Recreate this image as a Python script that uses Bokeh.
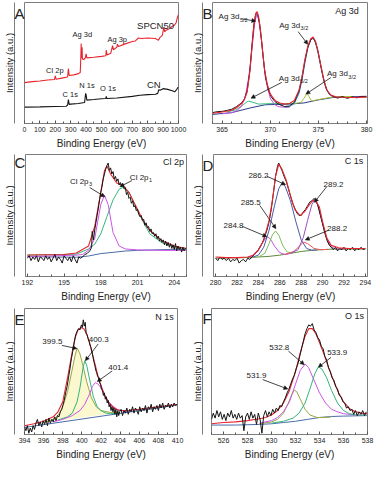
from bokeh.plotting import figure
from bokeh.layouts import column, row
from bokeh.models import Range1d, FixedTicker, Label, Arrow, NormalHead, ColumnDataSource
from bokeh.core.properties import value
from bokeh.embed import file_html
from bokeh.resources import INLINE

FONT = "Liberation Sans"

# ---------------- Panel A: survey ----------------
a_ticks = [0, 100, 200, 300, 400, 500, 600, 700, 800, 900, 1000]
a_minor = [50, 150, 250, 350, 450, 550, 650, 750, 850, 950]
a_spcn_x = [0, 50, 100, 150, 195, 200, 205, 250, 280, 285, 290, 320, 350, 362, 366, 368, 370, 373, 374, 376, 385, 395, 400, 405, 450, 500, 528, 531, 536, 560, 572, 578, 600, 603, 610, 650, 700, 720, 740, 760, 800, 850, 870, 880, 895, 900, 905, 910, 920, 940, 960, 975, 985, 992, 995, 1000]
a_spcn_y = [33.8, 34.6, 35.1, 35.9, 36.4, 39.4, 36.6, 37.7, 38.4, 45.3, 39.7, 40.2, 41.2, 42.2, 55.5, 66.2, 54.2, 58.0, 63.1, 53.4, 52.9, 54.2, 57.5, 54.2, 54.7, 55.5, 56.0, 60.6, 56.7, 58.0, 64.4, 61.0, 63.1, 65.6, 63.6, 65.6, 67.7, 68.2, 70.7, 70.2, 70.7, 70.2, 68.7, 71.2, 72.8, 76.3, 79.6, 75.8, 77.1, 78.4, 80.4, 81.4, 83.5, 87.3, 88.5, 89.8]
a_cn_x = [0, 100, 200, 270, 280, 285, 290, 300, 350, 390, 397, 400, 405, 450, 500, 528, 531, 535, 600, 700, 750, 800, 850, 865, 872, 880, 900, 930, 960, 975, 985, 995, 1000]
a_cn_y = [13.5, 13.7, 14.0, 14.2, 15.3, 19.8, 15.8, 16.0, 16.5, 17.3, 24.9, 23.7, 19.3, 19.8, 20.4, 20.6, 22.4, 20.6, 21.1, 22.4, 23.4, 23.9, 24.2, 24.9, 28.0, 27.5, 28.8, 28.2, 27.0, 26.2, 27.5, 29.5, 30.0]
a_lab_text = ["Cl 2p", "Ag 3d", "Ag 3p", "SPCN50", "C 1s", "N 1s", "O 1s", "CN"]
a_lab_x = [197, 375, 602, 851, 297, 406, 542, 840]
a_lab_y = [43.8, 73.3, 69.5, 81.4, 23.7, 31.0, 29.3, 32.0]
a_lab_size = ["7.5px", "7.5px", "7.5px", "9.5px", "7.5px", "7.5px", "7.5px", "9.5px"]

# ---------------- Panel B: Ag 3d ----------------
b_ticks = [365, 370, 375, 380]
b_minor = [364, 366, 367, 368, 369, 371, 372, 373, 374, 376, 377, 378, 379]
b_data_x = [364, 364.5, 365, 365.5, 366, 366.5, 367, 367.3, 367.6, 367.9, 368.1, 368.3, 368.5, 368.7, 368.9, 369.1, 369.3, 369.5, 369.8, 370.1, 370.5, 371, 371.5, 372, 372.5, 373, 373.3, 373.6, 373.9, 374.2, 374.4, 374.6, 374.9, 375.2, 375.5, 375.8, 376.1, 376.5, 377, 377.5, 378, 378.5, 379, 379.5, 380]
b_data_y = [9.0, 9.8, 10.0, 10.8, 11.8, 14.0, 17.0, 20.0, 27.0, 45.0, 65.0, 82.0, 91.0, 90.0, 82.0, 68.0, 52.0, 38.0, 28.0, 22.0, 18.0, 15.5, 14.0, 14.5, 17.5, 27.0, 38.0, 52.0, 63.0, 69.0, 70.5, 69.0, 62.0, 50.0, 38.0, 29.0, 24.5, 22.5, 21.0, 22.3, 20.8, 22.0, 21.2, 22.4, 22.0]
b_fit_x = [364, 365, 366, 366.5, 367, 367.3, 367.6, 367.9, 368.1, 368.3, 368.5, 368.65, 368.8, 369, 369.2, 369.4, 369.7, 370, 370.5, 371, 371.5, 372, 372.5, 373, 373.3, 373.6, 373.9, 374.2, 374.45, 374.7, 375, 375.3, 375.6, 375.9, 376.3, 376.8, 377.5, 378.5, 380]
b_fit_y = [8.5, 9.5, 11.0, 13.0, 16.5, 19.5, 26.0, 44.0, 63.0, 81.0, 91.0, 92.5, 88.0, 76.0, 60.0, 45.0, 32.0, 24.5, 19.0, 17.0, 16.0, 16.5, 19.0, 28.0, 39.0, 53.0, 64.0, 70.0, 71.5, 68.0, 58.0, 46.0, 35.0, 27.5, 23.5, 22.0, 21.7, 21.5, 21.8]
b_p52_x = [365, 366, 366.5, 367, 367.4, 367.8, 368.1, 368.4, 368.6, 368.8, 369.1, 369.4, 369.7, 370, 370.4, 370.8, 371.3, 372]
b_p52_y = [8.0, 9.0, 10.5, 14.0, 22.0, 40.0, 62.0, 84.0, 90.0, 86.0, 68.0, 45.0, 30.0, 21.0, 16.0, 14.0, 13.5, 13.5]
b_p32_x = [371.5, 372, 372.5, 373, 373.3, 373.6, 373.9, 374.2, 374.45, 374.7, 375, 375.3, 375.6, 375.9, 376.3, 376.8, 377.5]
b_p32_y = [13.5, 14.0, 16.5, 25.0, 36.0, 50.0, 62.0, 69.0, 70.5, 67.0, 57.0, 45.0, 34.0, 27.0, 23.0, 21.8, 21.5]
b_base_x = [364, 366, 368, 369.5, 372, 373.5, 375, 376.5, 380]
b_base_y = [7.5, 9.0, 13.0, 15.5, 16.0, 17.0, 19.5, 21.5, 22.5]
b_sat1_x = [365.5, 366.5, 367.2, 367.7, 368.2, 368.8, 369.5, 370.5, 371.5, 372.5]
b_sat1_y = [9.5, 11.5, 15.5, 18.5, 17.5, 16.0, 16.3, 16.5, 16.3, 16.5]
b_sat2_x = [372.5, 373.2, 373.6, 373.8, 374.0, 374.3, 374.8, 375.5, 376.5, 377.5, 378.5]
b_sat2_y = [16.5, 17.5, 22.0, 25.0, 22.5, 18.5, 19.5, 20.5, 22.0, 22.3, 22.3]
b_lab_x = [366.8, 373.1, 373.06, 378.06]
b_lab_y = [88.2, 81.2, 37.4, 41.1]
b_lab_sub = ["5/2", "3/2", "5/2", "3/2"]
b_arr_x0 = [367.1, 372.9, 371.2, 376.3]
b_arr_y0 = [86.4, 75.9, 34.0, 38.0]
b_arr_x1 = [368.5, 373.9, 368.0, 373.7]
b_arr_y1 = [84.6, 65.4, 20.9, 24.3]

# ---------------- Panel C: Cl 2p ----------------
c_ticks = [192, 195, 198, 201, 204]
c_minor = [193, 194, 196, 197, 199, 200, 202, 203, 205]
c_data_x = [192.0, 192.15, 192.3, 192.45, 192.6, 192.75, 192.9, 193.05, 193.2, 193.35, 193.5, 193.65, 193.8, 193.95, 194.1, 194.25, 194.4, 194.55, 194.7, 194.85, 195.0, 195.15, 195.3, 195.45, 195.6, 195.75, 195.9, 196.05, 196.2, 196.35,
            196.5, 196.7, 196.9, 197.1, 197.25, 197.3, 197.4, 197.5, 197.6, 197.7, 197.8, 197.9, 198.0, 198.1, 198.2, 198.3, 198.4, 198.5, 198.6, 198.7, 198.8, 198.9, 199.0, 199.1, 199.2, 199.3, 199.4, 199.5, 199.6, 199.7, 199.8, 199.9, 200.0,
            200.1, 200.2, 200.3, 200.4, 200.5, 200.6, 200.7, 200.8, 200.9, 201.0, 201.1, 201.2, 201.3, 201.4, 201.5, 201.6, 201.7, 201.8, 201.9, 202.0, 202.1, 202.2, 202.3, 202.4, 202.5, 202.6, 202.7, 202.8, 202.9, 203.0,
            203.1, 203.2, 203.3, 203.4, 203.5, 203.6, 203.7, 203.8, 203.9, 204.0, 204.1, 204.2, 204.3, 204.4, 204.5, 204.6, 204.7, 204.8, 204.9, 205.0]
c_data_y = [15, 17, 13, 16, 14, 17, 12, 16, 15, 13, 17, 14, 16, 12, 15, 18, 13, 16, 14, 11, 17, 15, 13, 16, 12, 17, 14, 11, 16, 15,
            16, 18, 19, 21, 24, 37, 30, 38, 44, 50, 56, 63, 69, 74, 80, 84, 88, 91, 93, 87, 89, 84, 86, 80, 82, 78, 80, 75, 77, 74, 76, 72, 73,
            67, 69, 64, 65, 60, 62, 57, 58, 54, 55, 51, 49, 50, 46, 47, 42, 44, 40, 41, 37, 39, 35, 36, 33, 35, 31, 33, 29, 31, 28,
            30, 26, 29, 25, 28, 24, 27, 23, 26, 22, 27, 21, 25, 22, 24, 20, 24, 21, 23, 22]
c_fit_x = [192, 195, 196, 197, 197.5, 198, 198.3, 198.5, 198.8, 199.3, 199.8, 200.3, 200.8, 201.5, 202, 203, 204, 205]
c_fit_y = [17.6, 18.0, 19.3, 25.0, 41.0, 69.0, 86.7, 90.5, 84.0, 76.6, 74.6, 69.0, 59.0, 45.0, 37.7, 29.4, 25.0, 23.0]
c_p3_x = [192, 196, 196.5, 197, 197.5, 198, 198.3, 198.6, 199, 199.5, 200, 201, 203, 205]
c_p3_y = [16.3, 17.5, 18.0, 21.5, 31.0, 59.0, 66.6, 59.0, 36.0, 25.0, 22.6, 21.8, 21.4, 21.4]
c_p1_x = [192, 196, 197, 197.5, 198, 198.5, 199, 199.5, 199.8, 200.3, 200.8, 201.5, 202, 203, 204, 205]
c_p1_y = [17.5, 18.3, 22.6, 26.4, 35.0, 49.0, 62.8, 71.6, 72.9, 69.0, 57.8, 44.0, 35.0, 27.6, 24.4, 23.0]
c_base_x = [192, 196, 197, 198, 199, 200, 201, 203, 205]
c_base_y = [16.3, 15.8, 16.8, 18.8, 19.8, 20.9, 21.4, 22.0, 22.6]
c_lab_x = [197.0, 201.9]
c_lab_y = [77.9, 81.2]
c_lab_sub = ["3", "1"]
c_arr_x0 = [197.1, 200.54]
c_arr_y0 = [72.9, 78.6]
c_arr_x1 = [198.33, 199.56]
c_arr_y1 = [65.3, 73.6]

# ---------------- Panel D: C 1s ----------------
d_ticks = [280, 282, 284, 286, 288, 290, 292, 294]
d_minor = [281, 283, 285, 287, 289, 291, 293]
d_data_x = [280.0, 280.2, 280.4, 280.6, 280.8, 281.0, 281.2, 281.4, 281.6, 281.8, 282.0, 282.2, 282.4, 282.6, 282.8, 283.0, 283.2, 283.4, 283.6, 283.8, 284.0, 284.2, 284.4, 284.6, 284.8, 285.0, 285.2, 285.4, 285.6, 285.8, 285.9, 286.0, 286.2, 286.4, 286.6, 286.8, 287.0, 287.2, 287.4, 287.6, 287.8, 288.0, 288.2, 288.4, 288.6, 288.8, 289.0, 289.2, 289.4, 289.6, 289.8, 290.0, 290.2, 290.4, 290.6, 290.8, 291.0, 291.2, 291.4, 291.6, 291.8, 292.0, 292.2, 292.4, 292.6, 292.8, 293.0, 293.2, 293.4, 293.6, 293.8, 294.0]
d_data_y = [15, 13, 16, 14, 15, 13, 15, 12, 14, 13, 15, 11, 13, 14, 12, 15, 14, 16, 18, 20, 22, 25, 28, 33, 38, 45, 55, 68, 82, 91, 93, 91, 87, 82, 78, 72, 66, 60, 56, 52, 50, 50, 53, 55, 58, 61, 62, 64, 62, 57, 50, 43, 36, 30, 26, 24, 22, 24, 21, 23, 22, 24, 21, 23, 22, 24, 21, 23, 22, 24, 22, 23]
d_fit_x = [280, 281, 282, 283, 283.5, 284, 284.5, 285, 285.3, 285.6, 285.9, 286.2, 286.6, 287, 287.4, 287.9, 288.3, 288.7, 289, 289.3, 289.7, 290, 290.4, 290.8, 291.5, 292.5, 294]
d_fit_y = [16.0, 15.5, 15.5, 16.0, 17.5, 21.5, 30.0, 46.0, 62.0, 82.0, 92.0, 88.0, 79.0, 66.0, 55.0, 50.0, 53.0, 58.0, 61.5, 63.0, 57.0, 45.0, 31.5, 25.5, 23.5, 23.0, 23.0]
d_base_x = [280, 283, 284, 285, 286, 287, 288, 289, 290, 291, 294]
d_base_y = [15.0, 15.5, 16.0, 16.5, 17.5, 19.0, 20.5, 21.5, 22.0, 22.5, 22.5]
d_c1_x = [283, 283.6, 284, 284.4, 284.8, 285.1, 285.5, 286, 286.5, 287]
d_c1_y = [15.6, 17.5, 22.0, 28.0, 32.6, 31.0, 25.0, 19.5, 18.0, 19.0]
d_c2_x = [284, 284.6, 285, 285.3, 285.6, 285.9, 286.3, 286.7, 287.2]
d_c2_y = [16.0, 19.0, 27.0, 34.0, 37.3, 34.0, 25.0, 20.0, 19.5]
d_c3_x = [283.5, 284, 284.5, 285, 285.5, 285.9, 286.2, 286.5, 287, 287.5, 288, 288.5, 289, 289.5]
d_c3_y = [16.0, 17.5, 24.0, 38.0, 58.0, 72.0, 76.5, 74.0, 62.0, 45.0, 30.0, 23.0, 21.5, 21.8]
d_c4_x = [286.5, 287.3, 287.8, 288.2, 288.6, 289.2, 289.8, 290.5]
d_c4_y = [18.0, 20.5, 24.5, 28.2, 27.0, 23.0, 22.0, 22.2]
d_c5_x = [287, 287.7, 288.2, 288.6, 289, 289.2, 289.5, 289.9, 290.3, 290.7, 291.2, 292]
d_c5_y = [19.0, 22.0, 32.0, 46.0, 59.0, 62.0, 60.0, 47.0, 33.0, 25.0, 22.5, 22.5]
d_lab_text = ["286.2", "285.5", "284.8", "289.2", "288.2"]
d_lab_x = [284.0, 283.28, 281.67, 291.02, 291.36]
d_lab_y = [83.0, 60.3, 42.0, 75.7, 39.4]
d_arr_x0 = [284.79, 284.13, 282.52, 290.37, 290.56]
d_arr_y0 = [82.2, 58.2, 41.0, 73.4, 37.9]
d_arr_x1 = [286.54, 285.64, 284.79, 289.23, 288.38]
d_arr_y1 = [75.2, 39.2, 32.6, 60.8, 30.0]

# ---------------- Panel E: N 1s ----------------
e_ticks = [394, 396, 398, 400, 402, 404, 406, 408, 410]
e_minor = [395, 397, 399, 401, 403, 405, 407, 409]
e_data_x = [394.0, 394.15, 394.3, 394.45, 394.6, 394.75, 394.9, 395.05, 395.2, 395.35, 395.5, 395.65, 395.8, 395.95, 396.1, 396.25, 396.4, 396.55, 396.7, 396.85, 397.0, 397.15, 397.3, 397.45, 397.6, 397.75, 397.9,
            398.0, 398.15, 398.3, 398.45, 398.6, 398.75, 398.9, 399.05, 399.2, 399.35, 399.5, 399.65, 399.8, 399.95, 400.05, 400.15, 400.25, 400.35, 400.45, 400.55, 400.65, 400.75, 400.85, 400.95,
            401.05, 401.15, 401.25, 401.35, 401.45, 401.55, 401.65, 401.75, 401.85, 401.95, 402.05, 402.15, 402.25, 402.35, 402.45, 402.55, 402.65, 402.75, 402.85, 402.95, 403.05, 403.15, 403.25, 403.35, 403.45, 403.55, 403.65, 403.75, 403.85, 403.95,
            404.1, 404.25, 404.4, 404.55, 404.7, 404.85, 405.0, 405.15, 405.3, 405.45, 405.6, 405.75, 405.9, 406.05, 406.2, 406.35, 406.5, 406.65, 406.8, 406.95, 407.1, 407.25, 407.4, 407.55, 407.7, 407.85,
            408.0, 408.15, 408.3, 408.45, 408.6, 408.75, 408.9, 409.05, 409.2, 409.35, 409.5, 409.65, 409.8, 409.95]
e_data_y = [6, 3, 7, 1, 5, 2, 7, 4, 9, 12, 7, 10, 6, 11, 8, 12, 7, 13, 9, 12, 10, 14, 11, 15, 14, 18, 20,
            23, 27, 33, 38, 45, 52, 60, 66, 73, 79, 82, 84, 83, 87, 85, 91, 86, 89, 80, 79, 76, 74, 71, 69,
            66, 62, 58, 55, 51, 49, 46, 45, 41, 40, 36, 35, 31, 33, 28, 30, 25, 27, 22, 24, 19, 22, 18, 21, 16, 20, 14, 19, 15, 18,
            20, 15, 19, 17, 21, 16, 20, 18, 22, 17, 21, 19, 16, 22, 18, 21, 19, 23, 17, 22, 20, 24, 18, 22, 20, 23,
            19, 24, 21, 25, 20, 23, 22, 25, 21, 24, 22, 25, 23, 24]
e_fit_x = [394, 395, 396, 397, 397.5, 398, 398.5, 399, 399.3, 399.6, 399.9, 400.2, 400.5, 400.8, 401.1, 401.4, 401.7, 402, 402.4, 402.8, 403.2, 403.6, 404, 405, 406, 407, 408, 409, 410]
e_fit_y = [7.0, 8.5, 10.5, 14.0, 18.0, 26.0, 45.0, 66.0, 77.0, 83.0, 85.0, 84.0, 80.0, 73.0, 64.0, 55.0, 46.0, 39.0, 31.0, 25.5, 22.0, 20.0, 19.0, 19.2, 20.0, 21.0, 22.0, 23.0, 23.8]
e_base_x = [394, 410]
e_base_y = [5.6, 23.4]
e_c1_x = [396, 397, 397.5, 398, 398.5, 399, 399.3, 399.5, 399.8, 400.1, 400.5, 401, 401.5, 402, 403, 404]
e_c1_y = [9.5, 12.0, 15.0, 22.0, 34.0, 52.0, 63.0, 68.7, 64.0, 55.0, 42.0, 29.0, 22.0, 19.0, 17.5, 17.5]
e_c2_x = [397.5, 398.5, 399, 399.5, 399.8, 400.1, 400.3, 400.5, 400.8, 401.2, 401.6, 402, 402.5, 403, 404]
e_c2_y = [11.5, 14.0, 17.0, 26.0, 37.0, 52.0, 58.5, 55.0, 44.0, 30.0, 22.0, 19.0, 17.0, 16.5, 17.0]
e_c3_x = [397, 398, 399, 399.8, 400.3, 400.8, 401.1, 401.4, 401.7, 402, 402.4, 402.8, 403.3, 403.8, 404.5, 405]
e_c3_y = [10.0, 12.0, 15.0, 19.0, 24.0, 32.0, 38.0, 41.2, 40.0, 37.0, 31.0, 26.0, 22.0, 19.5, 18.5, 18.5]
e_lab_text = ["399.5", "400.3", "401.4"]
e_lab_x = [396.91, 401.76, 403.8]
e_lab_y = [73.8, 75.1, 53.4]
e_arr_x0 = [397.91, 401.7, 403.17]
e_arr_y0 = [70.7, 71.8, 50.4]
e_arr_x1 = [399.48, 400.36, 401.61]
e_arr_y1 = [68.2, 58.5, 42.0]

# ---------------- Panel F: O 1s ----------------
f_ticks = [526, 528, 530, 532, 534, 536, 538]
f_minor = [525, 527, 529, 531, 533, 535, 537]
f_data_x = [525.0, 525.15, 525.3, 525.45, 525.6, 525.75, 525.9, 526.05, 526.2, 526.35, 526.5, 526.65, 526.8, 526.95, 527.1, 527.25, 527.4, 527.55, 527.7, 527.85, 528.0, 528.15, 528.3, 528.45, 528.6, 528.75, 528.9, 529.05, 529.2, 529.35, 529.5, 529.65, 529.8, 529.95,
            530.1, 530.25, 530.4, 530.55, 530.7, 530.85, 531.0, 531.15, 531.3, 531.45, 531.6, 531.75, 531.9, 532.05, 532.2, 532.35, 532.5, 532.65, 532.8, 532.95, 533.1, 533.25, 533.4, 533.55, 533.7, 533.85, 534.0,
            534.15, 534.3, 534.45, 534.6, 534.75, 534.9, 535.05, 535.2, 535.35, 535.5, 535.65, 535.8, 535.95, 536.1, 536.25, 536.4, 536.55, 536.7, 536.85, 537.0, 537.15, 537.3, 537.45, 537.6, 537.75, 537.9]
f_data_y = [12, 17, 13, 19, 14, 18, 12, 16, 11, 17, 14, 19, 13, 16, 12, 17, 13, 15, 3, 14, 17, 12, 18, 13, 16, 8, 17, 12, 1, 15, 19, 14, 18, 15,
            20, 17, 21, 19, 23, 22, 26, 29, 33, 36, 40, 44, 47, 52, 56, 62, 68, 74, 80, 84, 87, 86, 88, 83, 81, 77, 75,
            70, 68, 62, 59, 53, 50, 45, 43, 38, 36, 31, 30, 26, 25, 21, 22, 19, 20, 16, 19, 15, 18, 16, 19, 15, 18]
f_fit_x = [525, 526, 527, 528, 529, 529.5, 530, 530.5, 531, 531.5, 532, 532.4, 532.8, 533.1, 533.4, 533.7, 534, 534.4, 534.8, 535.2, 535.6, 536, 536.5, 537, 537.5, 538]
f_fit_y = [8.5, 9.5, 10.0, 11.0, 12.5, 13.5, 15.5, 19.0, 25.0, 35.0, 50.0, 65.0, 78.0, 84.0, 84.0, 80.0, 73.0, 63.0, 52.0, 42.0, 33.0, 26.0, 20.5, 18.0, 17.0, 16.5]
f_base_x = [525, 527, 529, 530, 531, 532, 533, 534, 535, 536, 537, 538]
f_base_y = [7.5, 7.5, 8.0, 8.5, 9.5, 10.5, 12.0, 13.5, 14.3, 14.6, 14.8, 15.0]
f_c1_x = [529, 530, 530.5, 531, 531.4, 531.7, 531.9, 532.1, 532.4, 532.8, 533.2, 533.8, 534.5, 535]
f_c1_y = [8.5, 10.0, 12.0, 17.0, 25.0, 32.0, 35.3, 34.0, 28.0, 20.0, 15.5, 13.5, 13.5, 14.0]
f_c2_x = [529, 530, 530.5, 531, 531.5, 532, 532.4, 532.8, 533.1, 533.5, 534, 534.5, 535, 535.5, 536, 537, 538]
f_c2_y = [9.0, 11.0, 13.5, 18.0, 26.0, 40.0, 51.0, 55.9, 53.0, 44.0, 33.0, 25.0, 20.0, 18.0, 16.5, 15.5, 15.3]
f_c3_x = [530, 531, 531.8, 532.3, 532.8, 533.2, 533.6, 533.9, 534.2, 534.6, 535, 535.5, 536, 536.5, 537, 538]
f_c3_y = [9.0, 10.5, 13.0, 17.0, 25.0, 36.0, 48.0, 53.6, 52.0, 45.0, 35.0, 25.0, 19.0, 16.5, 15.5, 15.2]
f_lab_text = ["532.8", "533.9", "531.9"]
f_lab_x = [530.65, 535.47, 528.75]
f_lab_y = [69.2, 65.4, 46.6]
f_arr_x0 = [531.41, 534.96, 529.26]
f_arr_y0 = [66.2, 61.2, 43.6]
f_arr_x1 = [532.73, 533.9, 531.36]
f_arr_y1 = [55.4, 53.4, 36.1]

RED = "#e8252f"
BLACK = "#151515"
MAGENTA = "#cc55e6"
GREEN = "#35b57a"
NAVY = "#2e3a8c"
STEEL = "#4b6ca8"
OLIVE = "#9aa641"
FRAME = "#7d7d7d"
TXT = "#222222"


def make_panel(xr, ticks, minor, w, h, br, bt, bb, letter, title=None, title_x=None, title_y=None):
    p = figure(width=w, height=h, x_range=Range1d(xr[0], xr[1]), y_range=Range1d(0, 100),
               output_backend="svg", toolbar_location=None, tools="",
               min_border_left=0, min_border_right=br, min_border_top=bt, min_border_bottom=bb)
    p.xgrid.visible = False
    p.ygrid.visible = False
    p.outline_line_color = FRAME
    p.background_fill_color = "white"
    p.border_fill_color = "white"
    xa = p.xaxis[0]
    xa.ticker = FixedTicker(ticks=ticks, minor_ticks=minor)
    xa.axis_line_color = FRAME
    xa.major_tick_in = 3
    xa.major_tick_out = 0
    xa.minor_tick_in = 2
    xa.minor_tick_out = 0
    xa.major_tick_line_color = "#555555"
    xa.minor_tick_line_color = "#555555"
    xa.major_label_text_font = FONT
    xa.major_label_text_font_size = "7px"
    xa.major_label_text_color = TXT
    xa.major_label_standoff = 3
    xa.axis_label = "Binding Energy (eV)"
    xa.axis_label_text_font = FONT
    xa.axis_label_text_font_size = "10px"
    xa.axis_label_text_font_style = "normal"
    xa.axis_label_text_color = TXT
    xa.axis_label_standoff = 3
    ya = p.yaxis[0]
    ya.ticker = FixedTicker(ticks=[])
    ya.major_tick_in = 0
    ya.major_tick_out = 0
    ya.minor_tick_in = 0
    ya.minor_tick_out = 0
    ya.major_label_standoff = 0
    ya.axis_line_color = FRAME
    ya.axis_label = "Intensity (a.u.)"
    ya.axis_label_text_font = FONT
    ya.axis_label_text_font_size = "9.5px"
    ya.axis_label_text_font_style = "normal"
    ya.axis_label_text_color = TXT
    ya.axis_label_standoff = 0
    fh = h - bt - bb
    lbl = Label(x=0, y=fh - 2, x_units="screen", y_units="screen", text=letter,
                text_font=FONT, text_font_size="15px", text_color=TXT,
                text_baseline="top", text_align="left")
    p.left = [lbl] + list(p.left)
    if title:
        p.text(x=[title_x], y=[title_y], text=[title], text_font=value(FONT), text_font_size="9px",
               text_align="right", text_baseline="middle", text_color=TXT)
    return p


def add_arrows(p, x0, y0, x1, y1):
    src = ColumnDataSource(dict(x0=x0, y0=y0, x1=x1, y1=y1))
    p.add_layout(Arrow(end=NormalHead(size=4, fill_color=BLACK, line_color=BLACK, line_width=0.5),
                       source=src, x_start="x0", y_start="y0", x_end="x1", y_end="y1",
                       line_color=BLACK, line_width=0.8))


def add_texts(p, xs, ys, texts, size="8px"):
    p.text(x=xs, y=ys, text=texts, text_font=value(FONT), text_font_size=size,
           text_align="center", text_baseline="middle", text_color=TXT)


def add_sub_labels(p, xs, ys, main, subs):
    p.text(x=xs, y=ys, text=[main] * len(xs), text_font=value(FONT), text_font_size="8px",
           text_align="right", text_baseline="middle", text_color=TXT)
    p.text(x=xs, y=ys, text=subs, text_font=value(FONT), text_font_size="5.5px",
           text_align="left", text_baseline="middle", text_color=TXT, x_offset=0.5, y_offset=3)


# ---- A ----
pA = make_panel((0, 1000), a_ticks, a_minor, 188, 152, 10, 2, 29, "A")
pA.line(a_spcn_x, a_spcn_y, line_color=RED, line_width=1.1)
pA.line(a_cn_x, a_cn_y, line_color=BLACK, line_width=1.1)
for t, x, y, s in zip(a_lab_text, a_lab_x, a_lab_y, a_lab_size):
    add_texts(pA, [x], [y], [t], s)

# ---- B ----
pB = make_panel((364, 380.1), b_ticks, b_minor, 188, 152, 9, 2, 29, "B", "Ag 3d", 379.2, 93)
pB.line(b_base_x, b_base_y, line_color=NAVY, line_width=1)
pB.line(b_sat1_x, b_sat1_y, line_color="#39c07a", line_width=1)
pB.line(b_sat2_x, b_sat2_y, line_color="#a6c23a", line_width=1)
pB.line(b_p52_x, b_p52_y, line_color=MAGENTA, line_width=1)
pB.line(b_p32_x, b_p32_y, line_color="#3c8fd6", line_width=1)
pB.line(b_data_x, b_data_y, line_color=BLACK, line_width=1)
pB.line(b_fit_x, b_fit_y, line_color=RED, line_width=1.1)
add_sub_labels(pB, b_lab_x, b_lab_y, "Ag 3d", b_lab_sub)
add_arrows(pB, b_arr_x0, b_arr_y0, b_arr_x1, b_arr_y1)

# ---- C ----
pC = make_panel((191.85, 205), c_ticks, c_minor, 188, 154, 2, 2, 27, "C", "Cl 2p", 204.8, 94.2)
pC.line(c_base_x, c_base_y, line_color=STEEL, line_width=1)
pC.line(c_p1_x, c_p1_y, line_color=GREEN, line_width=1)
pC.line(c_p3_x, c_p3_y, line_color=MAGENTA, line_width=1)
pC.line(c_fit_x, c_fit_y, line_color=RED, line_width=1.1)
pC.line(c_data_x, c_data_y, line_color=BLACK, line_width=1)
add_sub_labels(pC, c_lab_x, c_lab_y, "Cl 2p", c_lab_sub)
add_arrows(pC, c_arr_x0, c_arr_y0, c_arr_x1, c_arr_y1)

# ---- D ----
pD = make_panel((279.8, 294.2), d_ticks, d_minor, 188, 154, 9, 2, 30, "D", "C 1s", 293.8, 94.3)
pD.line(d_base_x, d_base_y, line_color="#5f8a3a", line_width=1)
pD.line(d_c1_x, d_c1_y, line_color=MAGENTA, line_width=1)
pD.line(d_c2_x, d_c2_y, line_color="#7cbf5a", line_width=1)
pD.line(d_c3_x, d_c3_y, line_color="#4a5aa8", line_width=1)
pD.line(d_c4_x, d_c4_y, line_color="#f05a5a", line_width=1)
pD.line(d_c5_x, d_c5_y, line_color="#9a4fc0", line_width=1)
pD.line(d_data_x, d_data_y, line_color=BLACK, line_width=1)
pD.line(d_fit_x, d_fit_y, line_color=RED, line_width=1.1)
add_texts(pD, d_lab_x, d_lab_y, d_lab_text)
add_arrows(pD, d_arr_x0, d_arr_y0, d_arr_x1, d_arr_y1)

# ---- E ----
pE = make_panel((394, 410), e_ticks, e_minor, 188, 156, 11, 2, 28, "E", "N 1s", 409.6, 93.6)
pE.patch(e_c1_x, e_c1_y, fill_color="#fbf7cf", line_color=None)
pE.line(e_base_x, e_base_y, line_color=STEEL, line_width=1)
pE.line(e_c1_x, e_c1_y, line_color=OLIVE, line_width=1)
pE.line(e_c2_x, e_c2_y, line_color=GREEN, line_width=1)
pE.line(e_c3_x, e_c3_y, line_color=MAGENTA, line_width=1)
pE.line(e_fit_x, e_fit_y, line_color=RED, line_width=1.1)
pE.line(e_data_x, e_data_y, line_color=BLACK, line_width=1)
add_texts(pE, e_lab_x, e_lab_y, e_lab_text)
add_arrows(pE, e_arr_x0, e_arr_y0, e_arr_x1, e_arr_y1)

# ---- F ----
pF = make_panel((525, 538), f_ticks, f_minor, 188, 156, 9, 2, 27, "F", "O 1s", 537.7, 94.2)
pF.line(f_base_x, f_base_y, line_color=STEEL, line_width=1)
pF.line(f_c1_x, f_c1_y, line_color=OLIVE, line_width=1)
pF.line(f_c2_x, f_c2_y, line_color=MAGENTA, line_width=1)
pF.line(f_c3_x, f_c3_y, line_color=GREEN, line_width=1)
pF.line(f_fit_x, f_fit_y, line_color=RED, line_width=1.1)
pF.line(f_data_x, f_data_y, line_color=BLACK, line_width=1)
add_texts(pF, f_lab_x, f_lab_y, f_lab_text)
add_arrows(pF, f_arr_x0, f_arr_y0, f_arr_x1, f_arr_y1)

layout = column(row(pA, pB), row(pC, pD), row(pE, pF))
open("out.html", "w").write(file_html(layout, INLINE))
